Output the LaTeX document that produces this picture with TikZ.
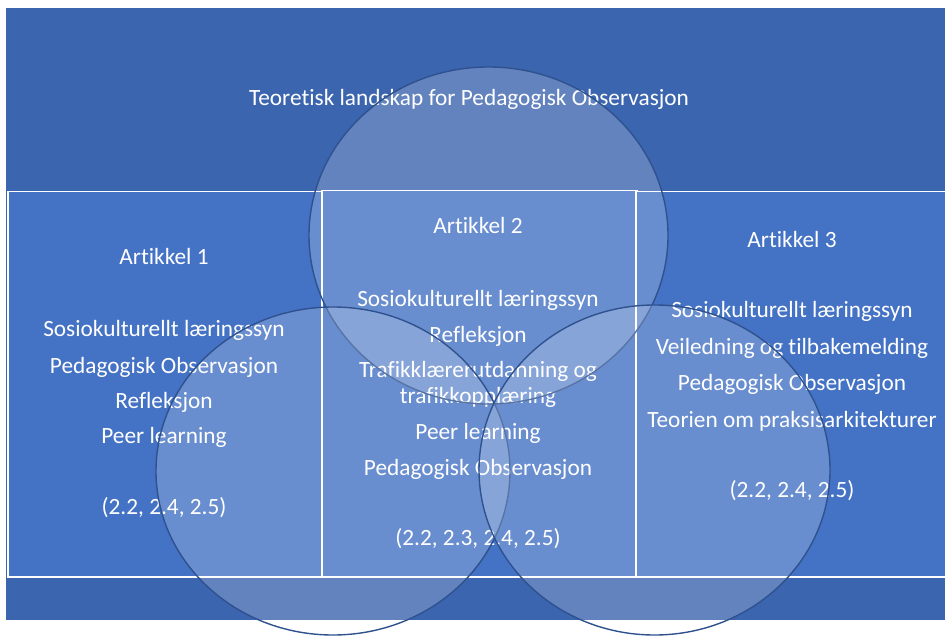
\documentclass[tikz,border=0pt]{standalone}
\usepackage{fontspec}
\setmainfont{Carlito}[Ligatures=NoCommon]
\usetikzlibrary{shapes.geometric}
\definecolor{band}{HTML}{3C65AF}
\definecolor{boxblue}{HTML}{4472C4}
\definecolor{ring}{HTML}{2F528F}
\begin{document}
\begin{tikzpicture}[x=1pt,y=-1pt,
  panel/.style={rectangle, draw=white, line width=1.5pt, fill=boxblue, inner sep=0pt, anchor=north west},
  txt/.style={text=white, font=\fontsize{23.3}{28}\selectfont, anchor=base, inner sep=0pt},
  venn/.style={ellipse, draw=ring, line width=1.4pt, fill=white, fill opacity=0.2, draw opacity=1, inner sep=0pt}]
\useasboundingbox (0,0) rectangle (945,636);
\fill[white] (0,0) rectangle (945,636);
\node[fill=band, minimum width=939pt, minimum height=612pt, inner sep=0pt, anchor=north west] (bg) at (6,8) {};
\node[panel, minimum width=314pt, minimum height=385pt] (a1) at (7,191) {};
\node[panel, minimum width=315pt, minimum height=386pt] (a2) at (321,190) {};
\node[panel, minimum width=310pt, minimum height=385pt] (a3) at (635,191) {};

\node[txt] (title) at (469,106) {Teoretisk landskap for Pedagogisk Observasjon};

\node[txt] (h1) at (164,265) {Artikkel 1};
\node[txt] (l1a) at (164,337) {Sosiokulturellt læringssyn};
\node[txt] (l1b) at (164,373) {Pedagogisk Observasjon};
\node[txt] (l1c) at (164,408) {Refleksjon};
\node[txt] (l1d) at (164,443) {Peer learning};
\node[txt] (l1e) at (164,514) {(2.2, 2.4, 2.5)};

\node[txt] (h2) at (478,234) {Artikkel 2};
\node[txt] (l2a) at (478,306) {Sosiokulturellt læringssyn};
\node[txt] (l2b) at (478,342) {Refleksjon};
\node[txt] (l2c) at (478,377) {Trafikklærerutdanning og};
\node[txt] (l2d) at (478,403) {trafikkopplæring};
\node[txt] (l2e) at (478,439) {Peer learning};
\node[txt] (l2f) at (478,475) {Pedagogisk Observasjon};
\node[txt] (l2g) at (478,545) {(2.2, 2.3, 2.4, 2.5)};

\node[txt] (h3) at (792,248) {Artikkel 3};
\node[txt] (l3a) at (792,318) {Sosiokulturellt læringssyn};
\node[txt] (l3b) at (792,354) {Veiledning og tilbakemelding};
\node[txt] (l3c) at (792,390) {Pedagogisk Observasjon};
\node[txt] (l3d) at (792,427) {Teorien om praksisarkitekturer};
\node[txt] (l3e) at (792,497) {(2.2, 2.4, 2.5)};

\node[venn, minimum width=359pt, minimum height=337pt] (ctop) at (488.5,235.5) {};
\node[venn, minimum width=354pt, minimum height=328pt] (cleft) at (333,471) {};
\node[venn, minimum width=351pt, minimum height=330pt] (cright) at (654.5,470) {};
\end{tikzpicture}
\end{document}
